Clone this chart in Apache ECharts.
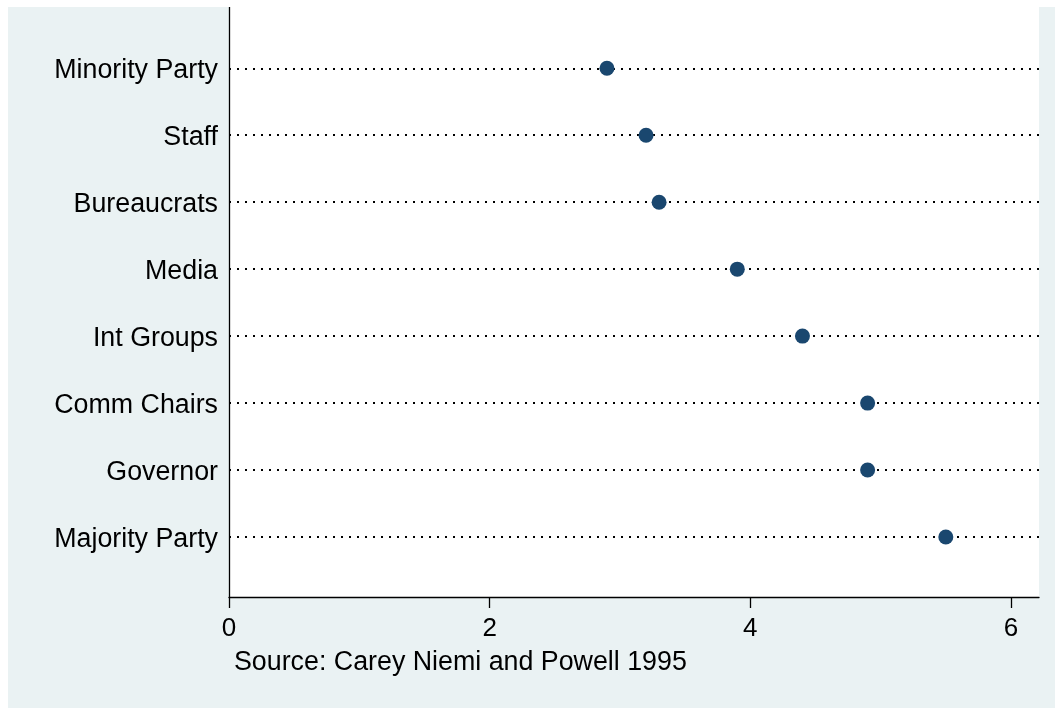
<!DOCTYPE html>
<html>
<head>
<meta charset="utf-8">
<script src="https://cdn.jsdelivr.net/npm/echarts@6/dist/echarts.min.js"></script>
<style>
  html, body { margin: 0; padding: 0; background: #ffffff; }
  #chart { position: absolute; left: 8px; top: 7px; width: 1047px; height: 701px; }
</style>
</head>
<body>
<div id="chart"></div>
<script>
// Who influences state legislatures: mean rated influence by actor
const categories = ['Minority Party', 'Staff', 'Bureaucrats', 'Media', 'Int Groups', 'Comm Chairs', 'Governor', 'Majority Party'];
const influence = [2.9, 3.2, 3.3, 3.9, 4.4, 4.9, 4.9, 5.5];
const xTicks = [0, 2, 4, 6];
const sourceNote = 'Source: Carey Niemi and Powell 1995';

const n = categories.length;
// Top row sits at the highest y position
const rowPos = categories.map((c, i) => n - i);
const labelFor = {};
rowPos.forEach((p, i) => { labelFor[p] = categories[i]; });

const font = 'Liberation Sans, Arial, Helvetica, sans-serif';
const chart = echarts.init(document.getElementById('chart'));

chart.setOption({
  backgroundColor: '#EAF2F3',
  animation: false,
  grid: {
    left: 221, right: 16, top: 0, bottom: 111,
    show: true, backgroundColor: '#ffffff', borderWidth: 0
  },
  xAxis: {
    type: 'value',
    min: 0, max: 6.215,
    axisLine: { show: true, onZero: false, lineStyle: { color: '#000', width: 1.3 } },
    axisTick: { show: true, length: 11, customValues: xTicks, lineStyle: { color: '#000', width: 1.3 } },
    axisLabel: { customValues: xTicks, margin: 19, color: '#000', fontSize: 26, fontFamily: font },
    splitLine: { show: false }
  },
  yAxis: {
    type: 'value',
    min: 0.104, max: 8.915,
    axisLine: { show: true, onZero: false, lineStyle: { color: '#000', width: 1.3 } },
    axisTick: { show: false },
    axisLabel: {
      customValues: rowPos,
      margin: 11,
      color: '#000', fontSize: 26.8, fontFamily: font,
      formatter: v => '{c|' + (labelFor[Math.round(v)] || '') + '}',
      rich: {
        c: { color: '#000', fontSize: 26.8, fontFamily: font, padding: [5, 0, 0, 0] }
      }
    },
    splitLine: { show: false }
  },
  series: [
    {
      // dotted guide line for each row
      type: 'scatter',
      data: [],
      z: 1,
      markLine: {
        silent: true,
        z: 1,
        symbol: 'none',
        label: { show: false },
        lineStyle: { color: '#000', width: 2, type: [2, 6], opacity: 1 },
        emphasis: { disabled: true },
        data: rowPos.map(p => ({ yAxis: p }))
      }
    },
    {
      type: 'scatter',
      z: 10,
      symbol: 'circle',
      symbolSize: 15,
      itemStyle: { color: '#1A476F', opacity: 1 },
      data: influence.map((v, i) => [v, rowPos[i]])
    }
  ],
  graphic: [
    {
      type: 'text',
      left: 226,
      top: 642,
      style: { text: sourceNote, fill: '#000', font: '26.8px ' + font }
    }
  ]
});
</script>
</body>
</html>
